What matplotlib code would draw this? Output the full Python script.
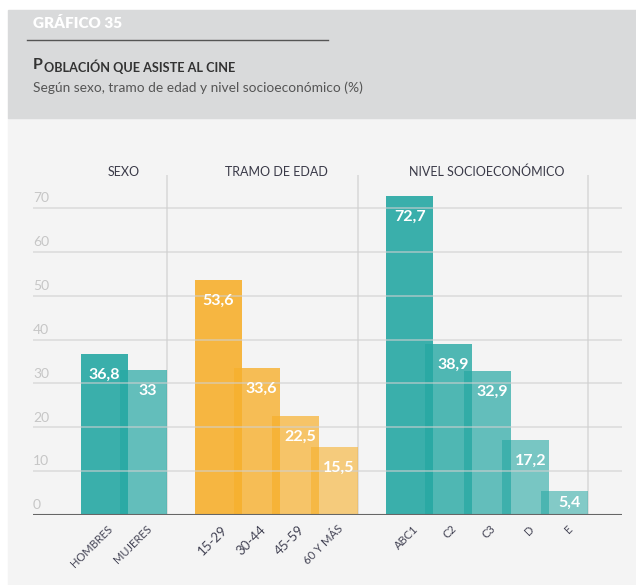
import matplotlib.pyplot as plt
from matplotlib.patches import Rectangle

# --- datos ---
grupos = ["SEXO", "TRAMO DE EDAD", "NIVEL SOCIOECONÓMICO"]
sexo_cat = ["HOMBRES", "MUJERES"]
sexo_val = [36.8, 33]
edad_cat = ["15-29", "30-44", "45-59", "60 Y MÁS"]
edad_val = [53.6, 33.6, 22.5, 15.5]
nse_cat = ["ABC1", "C2", "C3", "D", "E"]
nse_val = [72.7, 38.9, 32.9, 17.2, 5.4]
y_ticks = [0, 10, 20, 30, 40, 50, 60, 70]

teal = "#26a8a3"
naranja = "#f7b02d"
fondo = "#f4f4f4"

plt.rcParams["font.family"] = ["Lato", "DejaVu Sans"]

fig = plt.figure(figsize=(6.36, 5.85), dpi=100)
fig.patch.set_facecolor("white")

# paneles de fondo
fig.patches.append(Rectangle((8 / 636, 0), 628 / 636, 1 - 118 / 585,
                             transform=fig.transFigure, color=fondo, zorder=-2))
fig.patches.append(Rectangle((8 / 636, 1 - 118 / 585), 628 / 636, 108 / 585,
                             transform=fig.transFigure, color="#d9dadb", zorder=-2))

# cabecera
fig.text(33 / 636, 1 - 23 / 585, "GRÁFICO 35", color="white", fontsize=11,
         fontweight="heavy", va="center", ha="left")
fig.add_artist(plt.Line2D([27 / 636, 328 / 636], [1 - 40 / 585] * 2,
                          transform=fig.transFigure, color="#555555", lw=1))
t1 = fig.text(33 / 636, 1 - 69 / 585, "P", color="#333333", fontsize=11.5,
              fontweight="bold", va="baseline", ha="left")
fig.add_artist(plt.Annotation("OBLACIÓN QUE ASISTE AL CINE", xy=(1, 0),
                              xycoords=t1, xytext=(0.5, 0), textcoords="offset points",
                              color="#333333", fontsize=9.1, fontweight="bold",
                              va="baseline", ha="left"))
fig.text(33 / 636, 1 - 88 / 585, "Según sexo, tramo de edad y nivel socioeconómico (%)",
         color="#555555", fontsize=9.95, va="center", ha="left")

ax = fig.add_axes([33 / 636, 1 - 515 / 585, 589 / 636, 340 / 585])
ax.set_facecolor("none")
ax.set_xlim(-1.843, 13.36)
ax.set_ylim(0, 77.5)
ax.axis("off")

ancho = 1.21
gap = 1.94
bloques = [
    (sexo_cat, sexo_val, teal, [0.9, 0.7]),
    (edad_cat, edad_val, naranja, [0.9, 0.8, 0.7, 0.6]),
    (nse_cat, nse_val, teal, [0.9, 0.8, 0.7, 0.6, 0.55]),
]
inicio = 0
for g, (cats, vals, col, alphas) in enumerate(bloques):
    xs = [inicio + i for i in range(len(cats))]
    for i, (x, v, c) in enumerate(zip(xs, vals, cats)):
        ax.bar(x, v, width=ancho, color=col, alpha=alphas[i], lw=0, zorder=2)
        dx = 0 if i == 0 else 0.12
        txt = f"{v:g}".replace(".", ",")
        off = max(-15, -v * 3.16 / 2)
        ax.annotate(txt, xy=(x + dx, v), xytext=(0, off), textcoords="offset points",
                    ha="center", va="center", color="white", fontsize=11.5,
                    fontweight="bold", zorder=4)
        if c[0].isdigit():
            fs = 8.2 if " " in c else 9.5
        else:
            fs = 8
        ax.annotate(c, xy=(x, 0), xytext=(2, -6), textcoords="offset points",
                    rotation=45, rotation_mode="anchor", ha="right", va="top",
                    color="#444455", fontsize=fs, annotation_clip=False)
    borde = xs[-1] + ancho / 2
    ax.plot([borde, borde], [0, 77.5], color="#dcdcdc", lw=1.3, zorder=1)
    centro = (xs[0] + xs[-1]) / 2
    ax.text(centro, 77.3, grupos[g], ha="center", va="baseline", fontsize=9,
            color="#3a3a48", clip_on=False)
    inicio = xs[-1] + gap

# rejilla y ejes
for yv in y_ticks[1:]:
    ax.axhline(yv, color="#d0d0d0", lw=1.3, alpha=0.6, zorder=3)
for yv in y_ticks:
    ax.text(-1.843, yv + 2.2, str(yv), ha="left", va="center", fontsize=10,
            color="#c6c6c6")
ax.axhline(0, color="#666666", lw=1.5, zorder=5)

fig.savefig("out.png", dpi=100, facecolor=fig.get_facecolor())
